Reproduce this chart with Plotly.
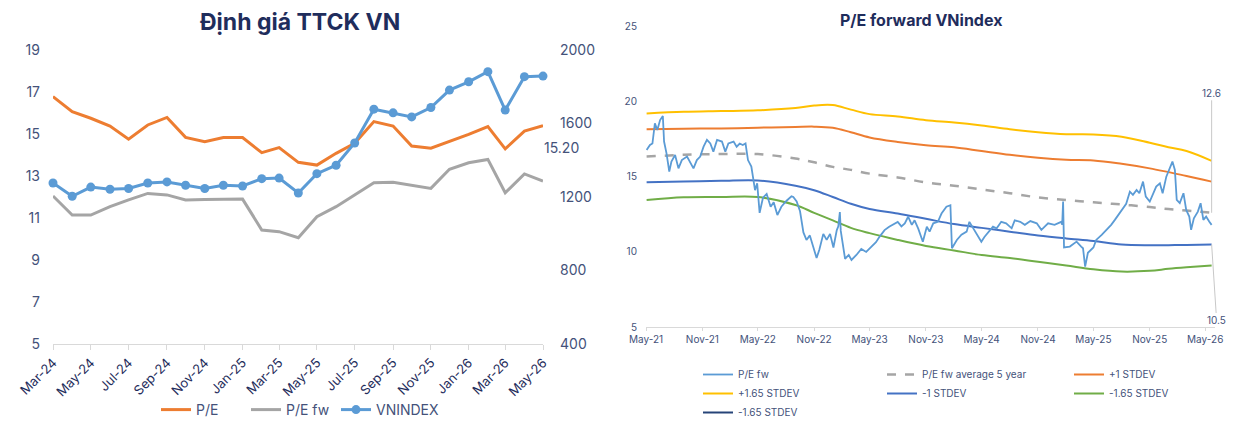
import plotly.graph_objects as go

# ---- left panel: market valuation (monthly) ----
months = ["2024-03", "2024-04", "2024-05", "2024-06", "2024-07", "2024-08", "2024-09",
          "2024-10", "2024-11", "2024-12", "2025-01", "2025-02", "2025-03", "2025-04",
          "2025-05", "2025-06", "2025-07", "2025-08", "2025-09", "2025-10", "2025-11",
          "2025-12", "2026-01", "2026-02", "2026-03", "2026-04", "2026-05"]
pe = [16.78, 16.06, 15.75, 15.38, 14.75, 15.43, 15.79, 14.84, 14.63, 14.83, 14.83, 14.11,
      14.35, 13.65, 13.52, 14.08, 14.56, 15.59, 15.38, 14.43, 14.32, 14.63, 14.98, 15.35,
      14.29, 15.14, 15.40]
pe_fw = [12.05, 11.14, 11.14, 11.54, 11.86, 12.17, 12.10, 11.86, 11.88, 11.90, 11.90, 10.43,
         10.35, 10.06, 11.06, 11.54, 12.10, 12.68, 12.70, 12.57, 12.41, 13.32, 13.63, 13.79,
         12.20, 13.10, 12.76]
vnindex = [1276, 1204, 1254, 1242, 1246, 1276, 1282, 1264, 1246, 1264, 1260, 1300, 1303,
           1222, 1327, 1373, 1494, 1678, 1658, 1636, 1687, 1782, 1827, 1882, 1673, 1855, 1858]
pe_label = "15.20"

# ---- right panel: P/E forward VNindex ----
fw_dates = ["2021-05-03", "2021-05-14", "2021-05-22", "2021-05-30", "2021-06-07", "2021-06-16",
            "2021-06-25", "2021-06-29", "2021-07-07", "2021-07-16", "2021-07-23", "2021-08-04",
            "2021-08-15", "2021-08-26", "2021-09-12", "2021-09-22", "2021-10-03", "2021-10-14",
            "2021-10-25", "2021-11-05", "2021-11-16", "2021-11-27", "2021-12-07", "2021-12-19",
            "2022-01-04", "2022-01-15", "2022-01-25", "2022-02-11", "2022-02-21", "2022-03-03",
            "2022-03-13", "2022-03-22", "2022-03-30", "2022-04-10", "2022-04-22", "2022-04-29",
            "2022-05-07", "2022-05-18", "2022-05-30", "2022-06-12", "2022-06-22", "2022-07-04",
            "2022-07-17", "2022-08-03", "2022-08-19", "2022-08-25", "2022-09-05", "2022-09-16",
            "2022-09-27", "2022-10-07", "2022-10-18", "2022-10-29", "2022-11-09", "2022-11-18",
            "2022-12-01", "2022-12-12", "2022-12-23", "2023-01-03", "2023-01-14", "2023-01-19",
            "2023-01-24", "2023-01-27", "2023-02-03", "2023-02-10", "2023-02-22", "2023-03-03",
            "2023-03-19", "2023-04-04", "2023-04-20", "2023-05-07", "2023-05-22", "2023-06-03",
            "2023-06-19", "2023-07-04", "2023-07-22", "2023-08-01", "2023-08-13", "2023-08-24",
            "2023-09-04", "2023-09-16", "2023-09-25", "2023-10-07", "2023-10-22", "2023-11-04",
            "2023-11-13", "2023-11-25", "2023-12-10", "2023-12-22", "2024-01-07", "2024-01-20",
            "2024-01-25", "2024-02-10", "2024-02-25", "2024-03-13", "2024-03-22", "2024-04-04",
            "2024-04-19", "2024-04-30", "2024-05-10", "2024-05-28", "2024-06-07", "2024-06-19",
            "2024-07-04", "2024-07-20", "2024-08-07", "2024-08-17", "2024-09-04", "2024-09-19",
            "2024-10-07", "2024-10-28", "2024-11-12", "2024-12-04", "2024-12-25", "2025-01-16",
            "2025-01-19", "2025-01-22", "2025-01-25", "2025-02-13", "2025-03-07", "2025-03-22",
            "2025-03-28", "2025-04-04", "2025-04-13", "2025-05-01", "2025-05-10", "2025-05-28",
            "2025-06-13", "2025-06-28", "2025-07-10", "2025-07-19", "2025-08-01", "2025-08-16",
            "2025-08-28", "2025-09-07", "2025-09-19", "2025-09-28", "2025-10-10", "2025-10-19",
            "2025-11-01", "2025-11-13", "2025-11-22", "2025-12-04", "2025-12-13", "2025-12-25",
            "2026-01-07", "2026-01-14", "2026-01-22", "2026-01-28", "2026-02-07", "2026-02-19",
            "2026-02-28", "2026-03-10", "2026-03-16", "2026-03-25", "2026-04-07", "2026-04-16",
            "2026-04-25", "2026-05-04", "2026-05-14", "2026-05-22"]
fw_values = [16.77, 17.10, 17.20, 18.54, 18.10, 18.76,
             19.03, 17.33, 16.55, 15.33, 16.00, 16.44,
             15.55, 16.10, 16.33, 16.00, 15.55, 16.10,
             16.33, 16.99, 17.44, 17.20, 16.66, 17.44,
             17.33, 16.66, 17.20, 17.33, 16.99, 17.20,
             17.10, 17.20, 16.10, 15.67, 14.10, 14.56,
             12.60, 13.60, 13.85, 13.00, 13.30, 12.45,
             13.00, 13.40, 13.70, 13.65, 13.35, 12.70,
             11.30, 10.80, 11.10, 10.35, 9.60, 10.15,
             11.20, 10.80, 11.20, 10.30, 11.45, 11.70,
             12.65, 11.40, 10.30, 9.55, 9.80, 9.47,
             9.80, 10.20, 10.00, 10.35, 10.65, 11.02,
             11.45, 11.68, 11.90, 12.00, 11.70, 11.90,
             12.34, 11.80, 12.10, 11.55, 10.68, 11.68,
             11.35, 11.90, 12.00, 12.55, 13.00, 13.10,
             10.25, 10.80, 11.15, 11.35, 12.00, 11.55,
             11.00, 10.68, 11.00, 11.45, 11.68, 11.57,
             12.00, 11.90, 11.57, 12.10, 12.00, 11.80,
             12.05, 11.90, 11.47, 11.90, 11.80, 12.00,
             11.80, 13.35, 10.30, 10.36, 10.69, 10.36,
             10.25, 9.03, 9.95, 10.30, 10.80, 11.13,
             11.47, 11.80, 12.13, 12.40, 12.79, 13.20,
             14.00, 13.79, 14.12, 13.90, 14.67, 13.68,
             13.35, 13.90, 14.34, 14.56, 13.90, 15.00,
             15.67, 16.00, 15.45, 13.46, 13.24, 13.90,
             12.79, 12.35, 11.47, 12.24, 12.68, 13.24,
             12.13, 12.35, 12.02, 11.80]

band_dates = ["2021-05-03", "2021-09-01", "2022-01-01", "2022-05-01", "2022-09-01", "2022-11-01",
              "2023-01-01", "2023-03-01", "2023-05-01", "2023-08-01", "2023-11-01", "2024-02-01",
              "2024-05-01", "2024-08-01", "2024-11-01", "2025-02-01", "2025-05-01", "2025-08-01",
              "2025-11-01", "2026-01-01", "2026-03-01", "2026-05-22"]
avg_5y = [16.33, 16.45, 16.50, 16.50, 16.20, 15.95, 15.65, 15.45, 15.20, 14.95, 14.62, 14.40,
          14.15, 13.90, 13.62, 13.45, 13.30, 13.15, 12.98, 12.85, 12.75, 12.60]
plus1 = [18.14, 18.18, 18.20, 18.25, 18.30, 18.32, 18.25, 17.95, 17.60, 17.30, 17.08, 16.95,
         16.70, 16.45, 16.25, 16.12, 16.08, 15.85, 15.55, 15.30, 15.05, 14.67]
plus165 = [19.20, 19.30, 19.35, 19.40, 19.55, 19.72, 19.75, 19.45, 19.15, 19.00, 18.75, 18.60,
           18.40, 18.15, 17.95, 17.82, 17.80, 17.65, 17.25, 16.95, 16.70, 16.05]
minus1 = [14.62, 14.68, 14.72, 14.75, 14.40, 14.10, 13.65, 13.20, 12.85, 12.55, 12.20, 11.85,
          11.60, 11.35, 11.10, 10.90, 10.73, 10.50, 10.45, 10.45, 10.47, 10.50]
minus165 = [13.45, 13.63, 13.65, 13.65, 13.12, 12.60, 12.10, 11.60, 11.25, 10.80, 10.40, 10.10,
            9.80, 9.60, 9.35, 9.10, 8.85, 8.70, 8.75, 8.88, 8.98, 9.10]

W, H = 1235, 437
OFF = 8  # the page body puts the figure 8px in from the top-left corner
NAVY = "#1f2d5c"
TICK = "#44527a"
FONT = "Inter"


def px_x(p):
    return (p - OFF) / W


def px_y(p):
    return (H - (p - OFF)) / H


fig = go.Figure()

# left panel
fig.add_trace(go.Scatter(x=months, y=pe, name="P/E", mode="lines",
                         line=dict(color="#ED7D31", width=3), legend="legend",
                         xaxis="x", yaxis="y"))
fig.add_trace(go.Scatter(x=months, y=pe_fw, name="P/E fw", mode="lines",
                         line=dict(color="#A5A5A5", width=3), legend="legend",
                         xaxis="x", yaxis="y"))
fig.add_trace(go.Scatter(x=months, y=vnindex, name="VNINDEX", mode="lines+markers",
                         line=dict(color="#5B9BD5", width=3), marker=dict(size=9),
                         cliponaxis=False, legend="legend", legendwidth=90,
                         xaxis="x", yaxis="y2"))

# right panel: bands (legend columns 2-4), then the daily line on top
band_style = [
    ("P/E fw average 5 year", avg_5y, dict(color="#A5A5A5", width=2.5, dash="dash"), "legend3", 1),
    ("+1 STDEV", plus1, dict(color="#ED7D31", width=2), "legend4", 1),
    ("+1.65 STDEV", plus165, dict(color="#FFC000", width=2), "legend2", 2),
    ("-1 STDEV", minus1, dict(color="#4472C4", width=2), "legend3", 2),
    ("-1.65 STDEV", minus165, dict(color="#70AD47", width=2), "legend4", 2),
]
for name, vals, ln, leg, rank in band_style:
    fig.add_trace(go.Scatter(x=band_dates, y=vals, name=name, mode="lines",
                             line=dict(shape="spline", **ln), legend=leg,
                             legendrank=rank, xaxis="x2", yaxis="y3"))
fig.add_trace(go.Scatter(x=[None], y=[None], name="-1.65 STDEV", mode="lines",
                         line=dict(color="#264478", width=2), legend="legend2",
                         legendrank=3, xaxis="x2", yaxis="y3"))
fig.add_trace(go.Scatter(x=fw_dates, y=fw_values, name="P/E fw", mode="lines",
                         line=dict(color="#5B9BD5", width=1.8), legend="legend2",
                         legendrank=1, xaxis="x2", yaxis="y3"))

small_leg = dict(orientation="v", yanchor="top", y=px_y(360), xanchor="left",
                 font=dict(size=10, color=TICK), bgcolor="rgba(0,0,0,0)",
                 tracegroupgap=0)

fig.update_layout(
    width=W, height=H,
    margin=dict(l=0, r=0, t=0, b=0, autoexpand=False),
    paper_bgcolor="white", plot_bgcolor="white",
    font=dict(family=FONT, color=TICK),
    xaxis=dict(domain=[px_x(53), px_x(543)], type="date", automargin=False,
               range=["2024-03-01", "2026-05-01"], dtick="M2", tick0="2024-03-01",
               tickformat="%b-%y", tickangle=-45, tickfont=dict(size=13, color=NAVY),
               showgrid=False, showline=True, linecolor="#d9d9d9", linewidth=1,
               ticks="outside", ticklen=5, tickcolor="#d9d9d9", zeroline=False,
               anchor="y"),
    yaxis=dict(domain=[px_y(344), px_y(50)], range=[5, 19], dtick=2, tick0=5,
               automargin=False, showgrid=False, zeroline=False, showline=False,
               tickfont=dict(size=14, color=TICK), ticklabelstandoff=12, anchor="x"),
    yaxis2=dict(overlaying="y", side="right", range=[400, 2000], dtick=400, tick0=400,
                automargin=False, showgrid=False, zeroline=False, showline=False,
                tickfont=dict(size=14, color=TICK), ticklabelstandoff=16, anchor="x"),
    xaxis2=dict(domain=[px_x(646), px_x(1215)], type="date", automargin=False,
                range=["2021-05-01", "2026-06-02"], dtick="M6", tick0="2021-05-01",
                tickformat="%b-%y", tickfont=dict(size=10, color=TICK),
                showgrid=False, showline=True, linecolor="#d9d9d9", linewidth=1,
                ticks="outside", ticklen=3, tickcolor="#d9d9d9", zeroline=False,
                anchor="y3"),
    yaxis3=dict(domain=[px_y(327.3), px_y(26)], range=[5, 25], dtick=5,
                automargin=False, showgrid=False, zeroline=False, showline=False,
                tickfont=dict(size=10, color=TICK), ticklabelstandoff=8, anchor="x2"),
    legend=dict(orientation="h", x=px_x(156), xanchor="left", y=px_y(410),
                yanchor="middle", font=dict(size=14, color=TICK), entrywidth=45,
                bgcolor="rgba(0,0,0,0)"),
    legend2=dict(small_leg, x=px_x(698)),
    legend3=dict(small_leg, x=px_x(882)),
    legend4=dict(small_leg, x=px_x(1069)),
    annotations=[
        dict(text="<b>Định giá TTCK VN</b>", xref="paper", yref="paper",
             x=px_x(300), y=px_y(22), xanchor="center", yanchor="middle",
             showarrow=False, font=dict(size=23, color=NAVY)),
        dict(text="<b>P/E forward VNindex</b>", xref="paper", yref="paper",
             x=px_x(921), y=px_y(20), xanchor="center", yanchor="middle",
             showarrow=False, font=dict(size=16, color=NAVY)),
        dict(text=pe_label, xref="paper", yref="paper",
             x=px_x(561), y=px_y(147), xanchor="center", yanchor="middle",
             showarrow=False, font=dict(size=14, color=TICK)),
        dict(text=f"{avg_5y[-1]:.1f}", xref="x2", yref="y3",
             x=band_dates[-1], y=avg_5y[-1], showarrow=True, arrowhead=0,
             arrowwidth=1, arrowcolor="#c8c8c8", ax=0, ay=-120,
             font=dict(size=10, color=TICK)),
        dict(text=f"{minus1[-1]:.1f}", xref="x2", yref="y3",
             x=band_dates[-1], y=minus1[-1], showarrow=True, arrowhead=0,
             arrowwidth=1, arrowcolor="#c8c8c8", ax=5, ay=76,
             font=dict(size=10, color=TICK)),
    ],
)

fig.write_html("out.html")
